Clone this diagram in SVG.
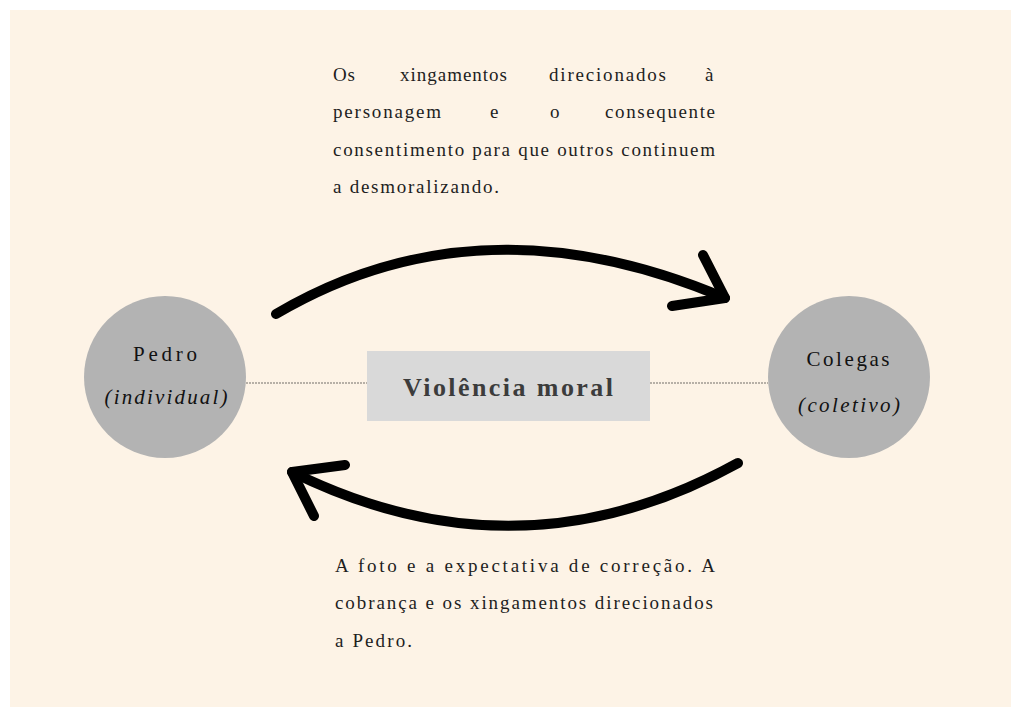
<svg xmlns="http://www.w3.org/2000/svg" width="1011" height="707" viewBox="0 0 1011 707">
<style>
.t{font-family:"Liberation Serif","Times New Roman",serif;font-size:19px;fill:#1e1e1e}
.lbl{font-family:"Liberation Serif","Times New Roman",serif;font-size:21px;fill:#111;text-anchor:middle}
.it{font-style:italic}
.arrow{fill:none;stroke:#000;stroke-width:10;stroke-linecap:round;stroke-linejoin:round}
.dot{stroke:#a09a92;stroke-width:1.5;stroke-dasharray:2 1;fill:none}
.circ{fill:#b3b3b3}
</style>
<rect x="0" y="0" width="1011" height="707" fill="#ffffff"/>
<rect x="10" y="10" width="1001" height="697" fill="#fdf3e6"/>
<g id="connectors">
<line class="dot" x1="246" y1="383" x2="367" y2="383"/>
<line class="dot" x1="650" y1="383" x2="768" y2="383"/>
<path class="arrow" d="M276,314 Q480,194 725,298"/>
<path class="arrow" d="M703,255 L725,298 L672,306"/>
<path class="arrow" d="M738,463 Q519,584 292,472"/>
<path class="arrow" d="M345,465 L292,472 L314,516"/>
</g>
<g id="pedro">
<circle class="circ" cx="165" cy="377" r="81"/>
<text class="lbl" x="165" y="361" textLength="64" lengthAdjust="spacing">Pedro</text>
<text class="lbl it" x="166" y="404" textLength="123" lengthAdjust="spacing">(individual)</text>
</g>
<g id="colegas">
<circle class="circ" cx="849" cy="377" r="81"/>
<text class="lbl" x="848" y="366" textLength="83" lengthAdjust="spacing">Colegas</text>
<text class="lbl it" x="849" y="412" textLength="102" lengthAdjust="spacing">(coletivo)</text>
</g>
<g id="violencia">
<rect x="367" y="351" width="283" height="70" fill="#d9d9d9"/>
<text x="508" y="396" text-anchor="middle" font-family="Liberation Serif, Times New Roman, serif" font-size="26" font-weight="bold" fill="#3c3c3c" textLength="210" lengthAdjust="spacing">Violência moral</text>
</g>
<g id="top-text">
<text class="t" x="333" y="81" textLength="22" lengthAdjust="spacing">Os</text>
<text class="t" x="400" y="81" textLength="107" lengthAdjust="spacing">xingamentos</text>
<text class="t" x="549" y="81" textLength="117" lengthAdjust="spacing">direcionados</text>
<text class="t" x="705" y="81">à</text>
<text class="t" x="333" y="118" textLength="108" lengthAdjust="spacing">personagem</text>
<text class="t" x="490" y="118">e</text>
<text class="t" x="550" y="118">o</text>
<text class="t" x="605" y="118" textLength="110" lengthAdjust="spacing">consequente</text>
<text class="t" x="333" y="156" textLength="382" lengthAdjust="spacing">consentimento para que outros continuem</text>
<text class="t" x="333" y="193" textLength="166" lengthAdjust="spacing">a desmoralizando.</text>
</g>
<g id="bottom-text">
<text class="t" x="335" y="572" textLength="380" lengthAdjust="spacing">A foto e a expectativa de correção. A</text>
<text class="t" x="335" y="609" textLength="378" lengthAdjust="spacing">cobrança e os xingamentos direcionados</text>
<text class="t" x="335" y="647" textLength="77" lengthAdjust="spacing">a Pedro.</text>
</g>
</svg>
